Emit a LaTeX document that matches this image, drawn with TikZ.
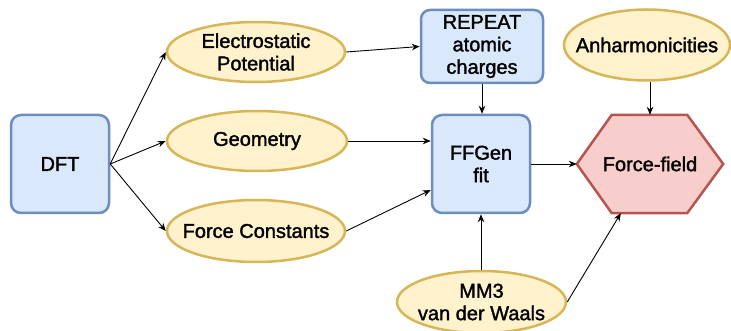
\documentclass[tikz,border=0pt]{standalone}
\usepackage{fontspec}
\setmainfont[FakeBold=1.6,BoldFont={Liberation Sans}]{Liberation Sans}
\usetikzlibrary{shapes.geometric,arrows.meta,calc,backgrounds}
\definecolor{bluefill}{HTML}{DAE8FC}
\definecolor{blueline}{HTML}{6C8EBF}
\definecolor{yelfill}{HTML}{FFF2CC}
\definecolor{yelline}{HTML}{D6B656}
\definecolor{redfill}{HTML}{F8CECC}
\definecolor{redline}{HTML}{B85450}

\begin{document}
\begin{tikzpicture}[x=1pt,y=-1pt,
  every node/.style={font=\fontsize{20}{22.5}\selectfont\bfseries, text=black},
  bluebox/.style={draw=blueline, fill=bluefill, line width=2.5pt,
    rounded corners=10pt, align=center, inner sep=0pt},
  oval/.style={ellipse, draw=yelline, fill=yelfill, line width=2.5pt, inner sep=0pt},
  ovaltext/.style={align=center},
  hexline/.style={draw=redline, fill=redfill, line width=2.5pt, line join=miter},
  link/.style={-{Stealth[length=8pt,width=6.5pt]}, line width=0.9pt}
]
\useasboundingbox (0,0) rectangle (731,331);

% sources
\node[bluebox, minimum width=98pt, minimum height=98pt] (dft) at (60,164) {DFT};

% DFT-derived data
\node[oval, minimum width=178pt, minimum height=60pt,
  label={[ovaltext]center:Electrostatic\\Potential}] (ep) at (256,52) {};
\node[oval, minimum width=180pt, minimum height=60pt,
  label={[ovaltext]center:Geometry}] (geo) at (257,141) {};
\node[oval, minimum width=178pt, minimum height=62pt,
  label={[ovaltext]center:Force Constants}] (fc) at (256,231) {};

% fitting stage
\node[bluebox, minimum width=122pt, minimum height=73pt, rounded corners=9pt]
  (rep) at (482,46.5) {REPEAT\\atomic\\charges};
\node[bluebox, minimum width=98pt, minimum height=98pt] (ffg) at (481,164) {FFGen\\fit};

% extra inputs
\node[oval, minimum width=166pt, minimum height=71pt,
  label={[ovaltext]center:Anharmonicities}] (anh) at (647,45) {};
\node[oval, minimum width=169pt, minimum height=62pt,
  label={[ovaltext]center:MM3\\van der Waals}] (mm3) at (481.5,302) {};

% result
\node[minimum width=146pt, minimum height=98pt, inner sep=0pt] (ff) at (650,164) {Force-field};
\begin{pgfonlayer}{background}
  \draw[hexline] (ff.west) -- ($(ff.north west)+(35,0)$) -- ($(ff.north east)+(-36,0)$)
    -- (ff.east) -- ($(ff.south east)+(-36,0)$) -- ($(ff.south west)+(35,0)$) -- cycle;
\end{pgfonlayer}

\coordinate (fcin) at ($(ffg.west)+(0,26)$);
\coordinate (mmin) at ($(ff.south west)+(44,0)$);

% connectors
\draw[link] (dft.east) -- (ep.west);
\draw[link] (dft.east) -- (geo.west);
\draw[link] (dft.east) -- (fc.west);
\draw[link] (ep.east) -- (rep.west);
\draw[link] (geo.east) -- (geo.east -| ffg.west);
\draw[link] (fc.east) -- (fcin);
\draw[link] (rep.south) -- (rep.south |- ffg.north);
\draw[link] (ffg.east) -- (ff.west);
\draw[link] (ff.north |- anh.south) -- (ff.north);
\draw[link] (mm3.north -| ffg.south) -- (ffg.south);
\draw[link] (mm3.east) -- (mmin);
\end{tikzpicture}
\end{document}
